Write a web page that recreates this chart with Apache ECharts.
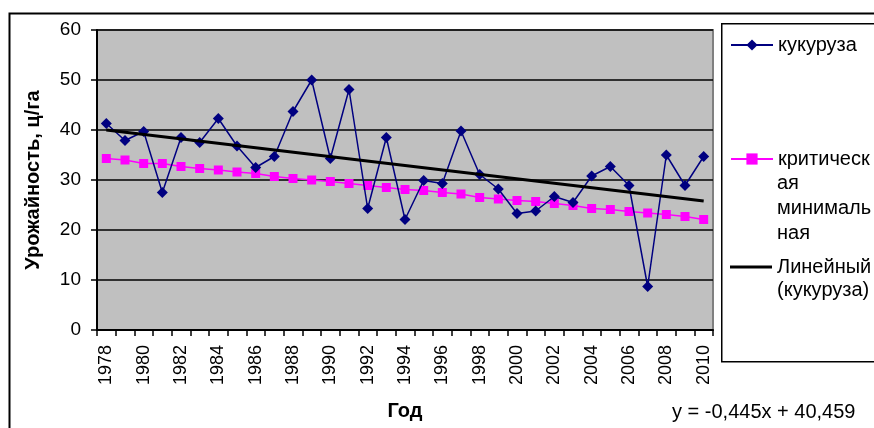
<!DOCTYPE html>
<html><head><meta charset="utf-8">
<script src="https://cdn.jsdelivr.net/npm/echarts@6/dist/echarts.min.js"></script>
<style>html,body{margin:0;padding:0;background:#fff}#c{width:874px;height:428px}</style>
</head><body><div id="c"></div>
<script>
const years = ['1978','1979','1980','1981','1982','1983','1984','1985','1986','1987','1988','1989','1990','1991','1992','1993','1994','1995','1996','1997','1998','1999','2000','2001','2002','2003','2004','2005','2006','2007','2008','2009','2010'];
const corn = [41.3,37.9,39.7,27.5,38.5,37.5,42.3,36.8,32.5,34.7,43.7,50.0,34.3,48.1,24.3,38.5,22.1,29.9,29.3,39.8,31.1,28.2,23.3,23.8,26.7,25.5,30.8,32.7,28.9,8.7,35.0,28.9,34.7];
const critical = [34.3,34.0,33.3,33.3,32.7,32.3,32.0,31.6,31.3,30.7,30.3,30.0,29.7,29.3,28.9,28.5,28.1,27.9,27.5,27.2,26.5,26.2,25.9,25.7,25.3,24.9,24.3,24.1,23.7,23.4,23.1,22.7,22.1];
const trendStart = 40.0;
const trendEnd = 25.8;
const yTicks = [0,10,20,30,40,50,60];
const equation = 'y = -0,445x + 40,459';

const F = '"Liberation Sans", Arial, sans-serif';
const FS = 19;
const LFS = 20;
const chart = echarts.init(document.getElementById('c'), null, {renderer:'canvas'});
const legendBase = {orient:'vertical', padding:0, itemWidth:42, itemHeight:14, itemGap:0, textStyle:{fontFamily:F, fontSize:LFS, color:'#000'}};
chart.setOption({
  animation:false,
  backgroundColor:'#fff',
  grid:{left:97, right:161, top:30, bottom:98, outerBoundsMode:'none', containLabel:false, show:true, backgroundColor:'#C0C0C0', borderColor:'#808080', borderWidth:2},
  xAxis:{type:'category', data:years, boundaryGap:true,
    name:'Год', nameLocation:'middle', nameGap:71,
    nameTextStyle:{fontFamily:F, fontSize:20, fontWeight:'bold', color:'#000'},
    axisLine:{lineStyle:{color:'#000', width:2}},
    axisTick:{show:true, interval:0, length:6, lineStyle:{color:'#000', width:1.5}},
    axisLabel:{interval:1, rotate:90, fontFamily:F, fontSize:18, color:'#000', margin:15},
    splitLine:{show:false}},
  yAxis:{type:'value', min:yTicks[0], max:yTicks[yTicks.length-1], interval:10,
    name:'Урожайность, ц/га', nameLocation:'middle', nameGap:54,
    nameTextStyle:{fontFamily:F, fontSize:20, fontWeight:'bold', color:'#000'},
    axisLine:{show:true, lineStyle:{color:'#000', width:2}},
    axisTick:{show:true, length:6, lineStyle:{color:'#000', width:1.5}},
    axisLabel:{fontFamily:F, fontSize:FS, color:'#000', margin:16},
    splitLine:{show:true, lineStyle:{color:'#000', width:1.5}}},
  legend:[
    Object.assign({}, legendBase, {left:730, top:35, data:['кукуруза']}),
    Object.assign({}, legendBase, {left:730, top:149, data:['критическая минимальная'], formatter:()=> 'критическ'}),
    Object.assign({}, legendBase, {left:730, top:257, data:[{name:'Линейный (кукуруза)', icon:'rect', itemStyle:{color:'#000'}}], itemHeight:3, formatter:()=> 'Линейный'})
  ],
  graphic:[
    {type:'rect', left:7, top:11, shape:{width:900, height:500}, style:{fill:'none', stroke:'#000', lineWidth:2}, z:-1},
    {type:'rect', left:721, top:23, shape:{width:200, height:338}, style:{fill:'#fff', stroke:'#000', lineWidth:1.5}, z:-1},
    {type:'text', left:777, top:171, style:{text:'ая\nминималь\nная', fontFamily:F, fontSize:LFS, lineHeight:25, fill:'#000'}},
    {type:'text', left:777, top:279, style:{text:'(кукуруза)', fontFamily:F, fontSize:LFS, lineHeight:22, fill:'#000'}},
    {type:'text', left:672, top:402, style:{text:equation, fontFamily:F, fontSize:20, fill:'#000'}}
  ],
  series:[
    {name:'кукуруза', type:'line', data:corn, symbol:'diamond', symbolSize:11, lineStyle:{color:'#000080', width:1.5}, itemStyle:{color:'#000080'}, z:4},
    {name:'критическая минимальная', type:'line', data:critical, symbol:'rect', symbolSize:9, lineStyle:{color:'#FF00FF', width:1.5}, itemStyle:{color:'#FF00FF'}, z:3},
    {name:'Линейный (кукуруза)', type:'line', data:[[years[0], trendStart],[years[years.length-1], trendEnd]], symbol:'none', lineStyle:{color:'#000', width:3}, itemStyle:{color:'#000'}, z:5}
  ]
});
</script></body></html>
